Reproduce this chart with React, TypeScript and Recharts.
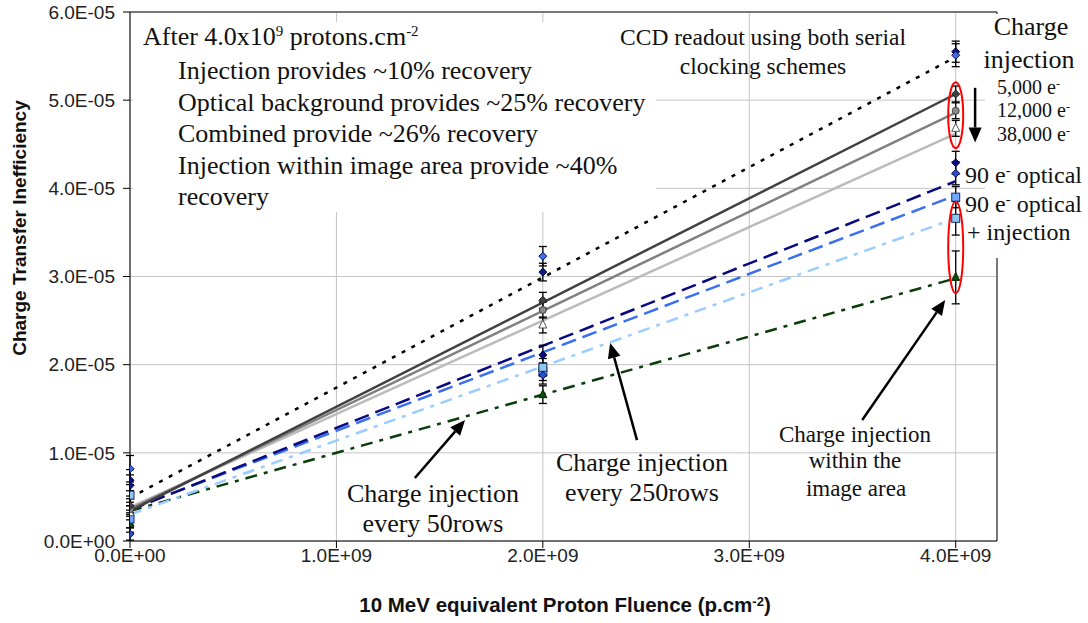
import React from 'react';
import {
  ComposedChart, Line, Scatter, XAxis, YAxis, CartesianGrid, ErrorBar, ReferenceDot, ReferenceLine,
} from 'recharts';

// ---- data ----
const X_TICKS = [0, 1e9, 2e9, 3e9, 4e9];
const Y_TICKS = [0, 1e-5, 2e-5, 3e-5, 4e-5, 5e-5, 6e-5];
const FLUENCE = [0, 2e9, 4e9];
const FIT_X = [0, 4e9];

// measured points (CTI) at FLUENCE, and their error half-widths
const ccdA = [8.2e-6, 3.23e-5, 5.51e-5];
const ccdAErr = [1.5e-6, 1.1e-6, 1.3e-6];
const ccdB = [6.3e-6, 3.05e-5, 5.55e-5];
const ccdBErr = [1.2e-6, 1.0e-6, 1.2e-6];
const inj5000 = [4.0e-6, 2.73e-5, 5.07e-5];
const inj5000Err = [8e-7, 9e-7, 9e-7];
const inj12000 = [3.6e-6, 2.62e-5, 4.88e-5];
const inj12000Err = [8e-7, 9e-7, 9e-7];
const inj38000 = [3.2e-6, 2.45e-5, 4.68e-5];
const inj38000Err = [8e-7, 9e-7, 9e-7];
const optical = [6.9e-6, 2.11e-5, 4.29e-5];
const opticalErr = [1.2e-6, 1.1e-6, 1.3e-6];
const opticalInj = [0.8e-6, 1.88e-5, 4.17e-5];
const opticalInjErr = [7e-7, 1.0e-6, 1.3e-6];
const every250 = [5.2e-6, 1.97e-5, 3.66e-5];
const every250Err = [1.2e-6, 1.0e-6, 1.9e-6];
const every50 = [2.5e-6, 1.92e-5, 3.9e-5];
const every50Err = [1.0e-6, 1.0e-6, 1.2e-6];
const imageArea = [2.0e-6, 1.66e-5, 2.99e-5];
const imageAreaErr = [1.0e-6, 1.0e-6, 3.0e-6];

// linear trend-line ends at FIT_X
const fitCcd = [4.9e-6, 5.49e-5];
const fit5000 = [3.4e-6, 5.07e-5];
const fit12000 = [3.6e-6, 4.86e-5];
const fit38000 = [3.8e-6, 4.62e-5];
const fitOptical = [3.5e-6, 4.08e-5];
const fitOpticalInj = [3.6e-6, 3.92e-5];
const fitEvery250 = [3.0e-6, 3.66e-5];
const fitImage = [3.4e-6, 2.98e-5];

// annotation anchors (data coords)
const ELLIPSE_X = 4e9;
const ELLIPSE_Y = [4.83e-5, 3.33e-5];
const ARROWS = [
  [[1.38e9, 0.714e-5], [1.623e9, 1.372e-5]],
  [[2.456e9, 1.145e-5], [2.326e9, 2.246e-5]],
  [[3.547e9, 1.372e-5], [3.949e9, 2.733e-5]],
  [[4.094e9, 5.14e-5], [4.094e9, 4.52e-5]],
];

const pts = (ys: number[], es: number[]) => FLUENCE.map((x, i) => ({ x, y: ys[i], e: es[i] }));
const fit = (ys: number[]) => FIT_X.map((x, i) => ({ x, y: ys[i] }));

const fmt = (v: number) => {
  if (v === 0) return '0.0E+00';
  const [m, e] = v.toExponential(1).split('e');
  const n = parseInt(e, 10);
  return `${m}E${n < 0 ? '-' : '+'}${String(Math.abs(n)).padStart(2, '0')}`;
};

const marker = (kind: string, fill: string, stroke: string) => (p: any) => {
  const { cx, cy } = p;
  if (cx == null || cy == null) return <g />;
  const s = 4;
  if (kind === 'diamond') {
    return <polygon points={`${cx},${cy - s} ${cx + s},${cy} ${cx},${cy + s} ${cx - s},${cy}`} fill={fill} stroke={stroke} strokeWidth={1} />;
  }
  if (kind === 'square') {
    return <rect x={cx - s} y={cy - s} width={2 * s} height={2 * s} fill={fill} stroke={stroke} strokeWidth={1} />;
  }
  if (kind === 'triangle') {
    return <polygon points={`${cx},${cy - s - 1} ${cx + s},${cy + s - 1} ${cx - s},${cy + s - 1}`} fill={fill} stroke={stroke} strokeWidth={1} />;
  }
  return <circle cx={cx} cy={cy} r={s - 0.5} fill={fill} stroke={stroke} strokeWidth={1} />;
};

const ArrowShape = (p: any) => {
  const { x1, y1, x2, y2 } = p;
  if ([x1, y1, x2, y2].some((v) => v == null || isNaN(v))) return <g />;
  const ang = Math.atan2(y2 - y1, x2 - x1);
  const L = 15, W = 6.5;
  const bx = x2 - L * Math.cos(ang), by = y2 - L * Math.sin(ang);
  const px = -Math.sin(ang) * W, py = Math.cos(ang) * W;
  return (
    <g>
      <line x1={x1} y1={y1} x2={bx} y2={by} stroke="#000" strokeWidth={2.5} />
      <polygon points={`${x2},${y2} ${bx + px},${by + py} ${bx - px},${by - py}`} fill="#000" />
    </g>
  );
};

const EllipseShape = (ry: number) => (p: any) => (
  <ellipse cx={p.cx} cy={p.cy} rx={7.5} ry={ry} fill="none" stroke="#ff0000" strokeWidth={2} />
);

const serif = '"Liberation Serif", "Times New Roman", serif';
const sans = '"Liberation Sans", Arial, sans-serif';

type T = { t: React.ReactNode; x: number; cy: number; fs?: number; align?: 'left' | 'center' };
const Txt = ({ t, x, cy, fs = 26, align = 'left' }: T) => {
  const lh = fs * 1.2;
  const style: React.CSSProperties = {
    position: 'absolute', top: cy - lh / 2, lineHeight: `${lh}px`, fontSize: fs,
    fontFamily: serif, color: '#111', whiteSpace: 'nowrap',
  };
  if (align === 'center') {
    style.left = x - 200; style.width = 400; style.textAlign = 'center';
  } else {
    style.left = x;
  }
  return <div style={style}>{t}</div>;
};

const sup = (s: string, fs = 15, top = -5) => (
  <sup style={{ fontSize: fs, verticalAlign: 'top', position: 'relative', top }}>{s}</sup>
);

const tickStyle = { fill: '#222', fontSize: 19, fontFamily: sans };

export default function App() {
  return (
    <div style={{ position: 'absolute', left: 0, top: 0, width: 1088, height: 623, background: '#fff', overflow: 'hidden' }}>
      <ComposedChart width={1088} height={623} margin={{ top: 12, right: 91, bottom: 0, left: 0 }}>
        <CartesianGrid stroke="#c4c4c4" strokeWidth={1} />
        <XAxis
          dataKey="x" type="number" domain={[0, 4.2e9]} ticks={X_TICKS} tickFormatter={fmt}
          allowDataOverflow height={82} tickSize={7} tickMargin={1}
          stroke="#000" tick={tickStyle}
        />
        <YAxis
          type="number" domain={[0, 6e-5]} ticks={Y_TICKS} tickFormatter={fmt}
          allowDataOverflow width={130} tickSize={7} tickMargin={8}
          stroke="#000" tick={tickStyle}
        />
        <ReferenceLine y={6e-5} stroke="#555" strokeWidth={1.5} ifOverflow="visible" />
        <ReferenceLine x={4.2e9} stroke="#555" strokeWidth={1.5} ifOverflow="visible" />

        <Line data={fit(fitImage)} dataKey="y" stroke="#0b3d0b" strokeWidth={2.5} strokeDasharray="12 7 4 7" dot={false} isAnimationActive={false} />
        <Line data={fit(fitEvery250)} dataKey="y" stroke="#99ccff" strokeWidth={2.5} strokeDasharray="12 7 4 7" dot={false} isAnimationActive={false} />
        <Line data={fit(fitOpticalInj)} dataKey="y" stroke="#3a6ff0" strokeWidth={2.5} strokeDasharray="15 7" dot={false} isAnimationActive={false} />
        <Line data={fit(fitOptical)} dataKey="y" stroke="#0a0a80" strokeWidth={2.5} strokeDasharray="15 7" dot={false} isAnimationActive={false} />
        <Line data={fit(fit38000)} dataKey="y" stroke="#bbbbbb" strokeWidth={2.5} dot={false} isAnimationActive={false} />
        <Line data={fit(fit12000)} dataKey="y" stroke="#808080" strokeWidth={2.5} dot={false} isAnimationActive={false} />
        <Line data={fit(fit5000)} dataKey="y" stroke="#404040" strokeWidth={2.5} dot={false} isAnimationActive={false} />
        <Line data={fit(fitCcd)} dataKey="y" stroke="#000" strokeWidth={2.5} strokeDasharray="4 7" dot={false} isAnimationActive={false} />

        {([
          [imageArea, imageAreaErr, 'triangle', '#0b4d0b', '#052805'],
          [every50, every50Err, 'square', '#6fa8ff', '#1a2a80'],
          [every250, every250Err, 'square', '#8fc8f0', '#1a2a60'],
          [opticalInj, opticalInjErr, 'diamond', '#2a50c8', '#0a0a60'],
          [optical, opticalErr, 'diamond', '#0a0a80', '#05053a'],
          [inj38000, inj38000Err, 'triangle', '#ffffff', '#555'],
          [inj12000, inj12000Err, 'circle', '#8a8a8a', '#444'],
          [inj5000, inj5000Err, 'diamond', '#404040', '#222'],
          [ccdB, ccdBErr, 'diamond', '#0a1a80', '#05053a'],
          [ccdA, ccdAErr, 'diamond', '#3a6fe8', '#0a0a60'],
        ] as any[]).map(([ys, es, kind, fill, stroke], i) => (
          <Scatter key={i} data={pts(ys, es)} dataKey="y" shape={marker(kind, fill, stroke)} isAnimationActive={false}>
            <ErrorBar dataKey="e" direction="y" width={4} stroke="#000" strokeWidth={1.3} />
          </Scatter>
        ))}

        <ReferenceDot x={ELLIPSE_X} y={ELLIPSE_Y[0]} r={1} ifOverflow="visible" shape={EllipseShape(33)} />
        <ReferenceDot x={ELLIPSE_X} y={ELLIPSE_Y[1]} r={1} ifOverflow="visible" shape={EllipseShape(46)} />
        {ARROWS.map((a, i) => (
          <ReferenceLine key={`a${i}`} segment={[{ x: a[0][0], y: a[0][1] }, { x: a[1][0], y: a[1][1] }]} ifOverflow="visible" shape={ArrowShape} />
        ))}
      </ComposedChart>

      {/* white text-box backgrounds */}
      <div style={{ position: 'absolute', left: 133, top: 22, width: 523, height: 190, background: '#fff' }} />
      <div style={{ position: 'absolute', left: 985, top: 14, width: 103, height: 244, background: '#fff' }} />

      <Txt t={<>After 4.0x10{sup('9')} protons.cm{sup('-2')}</>} x={143} cy={37} />
      <Txt t="Injection provides ~10% recovery" x={178} cy={71} />
      <Txt t="Optical background provides ~25% recovery" x={178} cy={103} />
      <Txt t="Combined provide ~26% recovery" x={178} cy={134} />
      <Txt t="Injection within image area provide ~40%" x={178} cy={166} />
      <Txt t="recovery" x={178} cy={197} />

      <Txt t="CCD readout using both serial" x={763} cy={37} fs={23.5} align="center" />
      <Txt t="clocking schemes" x={763} cy={66} fs={23.5} align="center" />

      <Txt t="Charge" x={1031} cy={27} align="center" />
      <Txt t="injection" x={1029} cy={60} align="center" />
      <Txt t={<>5,000 e{sup('-', 12, -3)}</>} x={997} cy={87} fs={20} />
      <Txt t={<>12,000 e{sup('-', 12, -3)}</>} x={997} cy={110} fs={20} />
      <Txt t={<>38,000 e{sup('-', 12, -3)}</>} x={997} cy={134} fs={20} />

      <Txt t={<>90 e{sup('-')} optical</>} x={965} cy={175} fs={24} />
      <Txt t={<>90 e{sup('-')} optical</>} x={965} cy={204} fs={24} />
      <Txt t="+ injection" x={967} cy={232} fs={24} />

      <Txt t="Charge injection" x={855} cy={435} fs={23} align="center" />
      <Txt t="within the" x={855} cy={461} fs={23} align="center" />
      <Txt t="image area" x={856} cy={489} fs={23} align="center" />

      <Txt t="Charge injection" x={642} cy={463} align="center" />
      <Txt t="every 250rows" x={642} cy={493} align="center" />

      <Txt t="Charge injection" x={433} cy={494} align="center" />
      <Txt t="every 50rows" x={433} cy={524} align="center" />

      <div style={{
        position: 'absolute', left: 20 - 160, top: 228 - 12, width: 320, height: 24, lineHeight: '24px',
        transform: 'rotate(-90deg)', textAlign: 'center', fontFamily: sans, fontWeight: 'bold', fontSize: 19, color: '#111',
      }}>Charge Transfer Inefficiency</div>
      <div style={{
        position: 'absolute', left: 565 - 300, top: 605 - 12, width: 600, height: 24, lineHeight: '24px',
        textAlign: 'center', fontFamily: sans, fontWeight: 'bold', fontSize: 20.5, color: '#111',
      }}>10 MeV equivalent Proton Fluence (p.cm{sup('-2', 13, -3)})</div>
    </div>
  );
}
